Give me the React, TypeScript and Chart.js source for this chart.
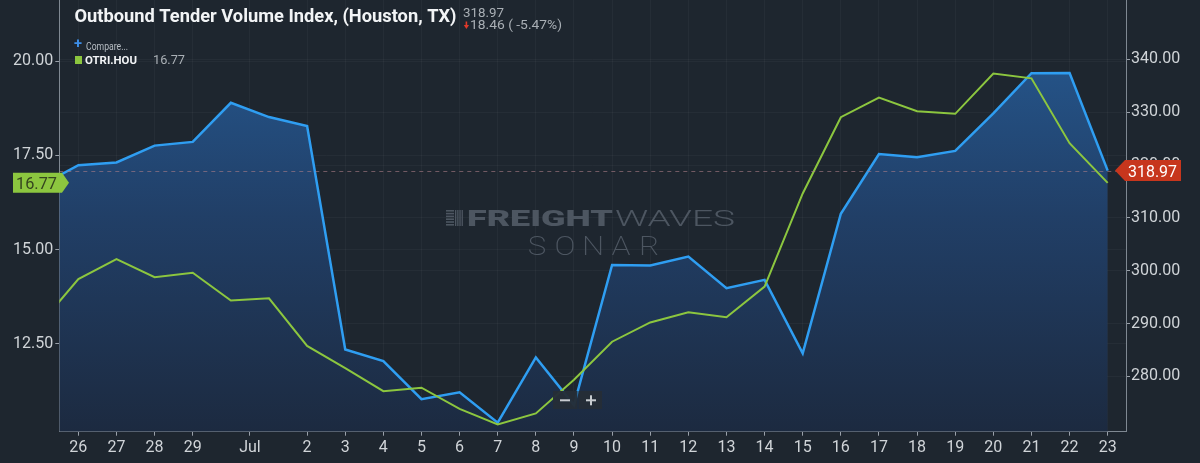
import React, { useEffect, useRef } from "react";
import { Chart, registerables } from "chart.js";

Chart.register(...registerables);

// ---- data (day index: 0 = Jun 25, 1 = Jun 26, ... 6 = Jul 1, ... 28 = Jul 23) ----
const DAY_INDEX = [0, 1, 2, 3, 4, 5, 6, 7, 8, 9, 10, 11, 12, 13, 14, 15, 16, 17, 18, 19, 20, 21, 22, 23, 24, 25, 26, 27, 28];

// Outbound Tender Volume Index (Houston) - right axis, blue area
const OTVI_HOU = [316.1, 320.0, 320.5, 323.7, 324.4, 331.8, 329.1, 327.4, 285.1, 282.9, 275.7, 277.0, 271.25, 283.6, 274.6, 301.1, 301.0, 302.7, 296.7, 298.3, 284.4, 310.8, 322.1, 321.5, 322.7, 329.8, 337.4, 337.43, 318.97];

// Outbound Tender Reject Index (Houston) - left axis, green line
const OTRI_HOU = [13.03, 14.22, 14.75, 14.27, 14.39, 13.65, 13.71, 12.45, 11.86, 11.25, 11.34, 10.78, 10.37, 10.66, 11.55, 12.56, 13.07, 13.34, 13.21, 14.02, 16.49, 18.51, 19.03, 18.67, 18.6, 19.67, 19.54, 17.82, 16.77];

const X_TICK_POSITIONS = [1, 2, 3, 4, 5.5, 7, 8, 9, 10, 11, 12, 13, 14, 15, 16, 17, 18, 19, 20, 21, 22, 23, 24, 25, 26, 27, 28];
const X_TICK_LABELS = ["26", "27", "28", "29", "Jul", "2", "3", "4", "5", "6", "7", "8", "9", "10", "11", "12", "13", "14", "15", "16", "17", "18", "19", "20", "21", "22", "23"];
const LEFT_TICKS = [12.5, 15, 17.5, 20];
const RIGHT_TICKS = [280, 290, 300, 310, 320, 330, 340];

const TITLE = "Outbound Tender Volume Index, (Houston, TX)";
const COMPARE_TEXT = "Compare...";
const SERIES_NAME = "OTRI.HOU";
const WATERMARK_1A = "FREIGHT";
const WATERMARK_1B = "WAVES";
const WATERMARK_2 = "SONAR";

// ---- styles ----
const FONT = "Roboto, 'Noto Sans', 'DejaVu Sans', sans-serif";
const BG = "#1e262f";
const BLUE = "#2f9ef2";
const GREEN = "#8cc63f";
const RED = "#c7361d";
const TICK_TEXT = "#d0d4d8";
const GRID = "rgba(255,255,255,0.035)";
const TICK_MARK = "rgba(175,182,190,0.85)";
const BORDER = "#7f8892";

function fitText(ctx: CanvasRenderingContext2D, text: string, x: number, y: number, width: number, font: string) {
  ctx.font = font;
  const w = ctx.measureText(text).width || 1;
  ctx.save();
  ctx.translate(x, y);
  ctx.scale(width / w, 1);
  ctx.textAlign = "left";
  ctx.fillText(text, 0, 0);
  ctx.restore();
}

const overlayPlugin = {
  id: "overlay",
  beforeDatasetsDraw(chart: any) {
    const ctx: CanvasRenderingContext2D = chart.ctx;
    ctx.save();
    // watermark
    const wm = "#4d5661";
    ctx.fillStyle = wm;
    ctx.strokeStyle = wm;
    ctx.textBaseline = "alphabetic";
    // icon
    for (let i = 0; i < 6; i++) {
      ctx.fillRect(446, 210 + i * 2.8, 8, 1.6);
    }
    for (let i = 0; i < 4; i++) {
      ctx.fillRect(455 + i * 2.2, 210, 1.3, 16);
    }
    fitText(ctx, WATERMARK_1A, 467, 226, 146, `900 22px ${FONT}`);
    fitText(ctx, WATERMARK_1B, 615, 226, 120, `300 22px ${FONT}`);
    ctx.font = `200 25px ${FONT}`;
    ctx.textAlign = "center";
    const letters = WATERMARK_2.split("");
    letters.forEach((ch, i) => {
      ctx.save();
      ctx.translate(523 + (i + 0.5) * 28, 255);
      ctx.scale(1.25, 1);
      ctx.fillText(ch, 0, 0);
      ctx.restore();
    });
    ctx.restore();
  },
  afterDatasetsDraw(chart: any) {
    const ctx: CanvasRenderingContext2D = chart.ctx;
    const area = chart.chartArea;
    const yR = chart.scales.yR;
    const last = OTVI_HOU[OTVI_HOU.length - 1];
    const y = yR.getPixelForValue(last);
    ctx.save();
    ctx.strokeStyle = "rgba(170,125,135,0.6)";
    ctx.lineWidth = 1;
    ctx.setLineDash([4, 4]);
    ctx.beginPath();
    ctx.moveTo(area.left, Math.round(y) + 0.5);
    ctx.lineTo(area.right, Math.round(y) + 0.5);
    ctx.stroke();
    ctx.restore();
  },
  afterDraw(chart: any) {
    const ctx: CanvasRenderingContext2D = chart.ctx;
    const yR = chart.scales.yR;
    const yL = chart.scales.yL;
    const lastV = OTVI_HOU[OTVI_HOU.length - 1];
    const prevV = OTVI_HOU[OTVI_HOU.length - 2];
    const change = lastV - prevV;
    const pct = (change / prevV) * 100;
    const lastR = OTRI_HOU[OTRI_HOU.length - 1];
    ctx.save();
    ctx.textBaseline = "alphabetic";

    // title
    ctx.fillStyle = "#f2f4f6";
    fitText(ctx, TITLE, 74.5, 21.7, 382, `bold 17.5px ${FONT}`);
    ctx.fillStyle = "#a9afb5";
    fitText(ctx, lastV.toFixed(2), 463, 16.7, 41, `13px ${FONT}`);
    fitText(ctx, `${Math.abs(change).toFixed(2)} ( ${pct.toFixed(2)}%)`, 470, 29.3, 92, `13px ${FONT}`);
    // red down arrow
    ctx.fillStyle = "#e0392a";
    ctx.fillRect(465.6, 21.5, 1.6, 4);
    ctx.beginPath();
    ctx.moveTo(463.8, 25);
    ctx.lineTo(469, 25);
    ctx.lineTo(466.4, 29);
    ctx.closePath();
    ctx.fill();

    // legend
    ctx.fillStyle = "#3d8ee8";
    fitText(ctx, "+", 74, 48, 8, `bold 14px ${FONT}`);
    ctx.fillStyle = "#b8bec4";
    fitText(ctx, COMPARE_TEXT, 86, 50, 42, `11px ${FONT}`);
    ctx.fillStyle = GREEN;
    ctx.fillRect(75, 56, 7, 8);
    ctx.fillStyle = "#f2f4f6";
    fitText(ctx, SERIES_NAME, 85, 64, 52, `bold 11px ${FONT}`);
    ctx.fillStyle = "#aab0b6";
    fitText(ctx, lastR.toFixed(2), 153, 64, 32, `13px ${FONT}`);

    // right value label (red)
    const yr = yR.getPixelForValue(lastV);
    ctx.fillStyle = RED;
    ctx.beginPath();
    ctx.moveTo(1115, yr);
    ctx.lineTo(1125, yr - 10.5);
    ctx.lineTo(1181, yr - 10.5);
    ctx.lineTo(1181, yr + 10.5);
    ctx.lineTo(1125, yr + 10.5);
    ctx.closePath();
    ctx.fill();
    ctx.fillStyle = "#ffffff";
    fitText(ctx, lastV.toFixed(2), 1128, yr + 6, 49, `16px ${FONT}`);

    // left value label (green)
    const yl = yL.getPixelForValue(lastR);
    ctx.fillStyle = GREEN;
    ctx.beginPath();
    ctx.moveTo(13, yl - 10);
    ctx.lineTo(62, yl - 10);
    ctx.lineTo(69, yl);
    ctx.lineTo(62, yl + 10);
    ctx.lineTo(13, yl + 10);
    ctx.closePath();
    ctx.fill();
    ctx.fillStyle = "#34441f";
    fitText(ctx, lastR.toFixed(2), 16, yl + 6, 41, `16px ${FONT}`);

    // zoom buttons
    ctx.fillStyle = "rgba(37,45,55,0.97)";
    ctx.fillRect(553, 391, 24.5, 18);
    ctx.fillRect(578.5, 391, 23.5, 18);
    ctx.fillStyle = "#c8ccd0";
    ctx.fillRect(560, 399.3, 10, 2);
    ctx.fillRect(586, 399.3, 10, 2);
    ctx.fillRect(590, 395.3, 2, 10);
    ctx.restore();
  },
};

export default function App() {
  const canvasRef = useRef<HTMLCanvasElement | null>(null);

  useEffect(() => {
    document.body.style.margin = "0";
    document.body.style.background = BG;
    const canvas = canvasRef.current;
    if (!canvas) return;

    const areaFill = (c: any) => {
      const chart = c.chart;
      const area = chart.chartArea;
      if (!area) return "rgba(37,90,147,0.8)";
      const g = chart.ctx.createLinearGradient(0, area.top, 0, area.bottom);
      g.addColorStop(0, "#265c96");
      g.addColorStop(0.5, "#213f67");
      g.addColorStop(1, "#1c2a40");
      return g;
    };

    const tickFont = { family: FONT, size: 16, weight: "normal" as const };

    const chart = new Chart(canvas, {
      type: "line",
      data: {
        datasets: [
          {
            label: "OTVI.HOU",
            data: DAY_INDEX.map((d, i) => ({ x: d, y: OTVI_HOU[i] })),
            yAxisID: "yR",
            xAxisID: "x",
            borderColor: BLUE,
            borderWidth: 2.5,
            backgroundColor: areaFill,
            fill: "start",
            pointRadius: 0,
            tension: 0,
            order: 2,
            clip: 0,
          },
          {
            label: "OTRI.HOU",
            data: DAY_INDEX.map((d, i) => ({ x: d, y: OTRI_HOU[i] })),
            yAxisID: "yL",
            xAxisID: "x",
            borderColor: GREEN,
            borderWidth: 2,
            fill: false,
            pointRadius: 0,
            tension: 0,
            order: 1,
            clip: 0,
          },
        ],
      },
      options: {
        animation: false,
        responsive: false,
        events: [],
        layout: { padding: 0 },
        plugins: {
          legend: { display: false },
          tooltip: { enabled: false },
          title: { display: false },
        },
        scales: {
          x: {
            type: "linear",
            position: "bottom",
            min: 0.5,
            max: 28.48,
            afterBuildTicks: (s: any) => {
              s.ticks = X_TICK_POSITIONS.map((v) => ({ value: v }));
            },
            afterFit: (s: any) => {
              s.height = 31.3;
              s.paddingLeft = 0;
              s.paddingRight = 0;
            },
            ticks: {
              autoSkip: false,
              maxRotation: 0,
              minRotation: 0,
              padding: 3,
              color: TICK_TEXT,
              font: tickFont,
              callback: (_v: any, i: number) => X_TICK_LABELS[i],
            },
            grid: { color: GRID, tickColor: TICK_MARK, tickLength: 4, drawTicks: true },
            border: { display: true, color: BORDER, width: 1 },
          },
          yL: {
            type: "linear",
            position: "left",
            min: 10.175,
            max: 21.617,
            afterBuildTicks: (s: any) => {
              s.ticks = LEFT_TICKS.map((v) => ({ value: v }));
            },
            afterFit: (s: any) => {
              s.width = 59.3;
              s.paddingTop = 0;
              s.paddingBottom = 0;
            },
            ticks: {
              padding: 2,
              color: TICK_TEXT,
              font: tickFont,
              callback: (v: any) => Number(v).toFixed(2),
            },
            grid: { color: GRID, tickColor: TICK_MARK, tickLength: 4, drawTicks: true },
            border: { display: true, color: BORDER, width: 1 },
          },
          yR: {
            type: "linear",
            position: "right",
            min: 269.55,
            max: 351.26,
            afterBuildTicks: (s: any) => {
              s.ticks = RIGHT_TICKS.map((v) => ({ value: v }));
            },
            afterFit: (s: any) => {
              s.width = 74;
              s.paddingTop = 0;
              s.paddingBottom = 0;
            },
            ticks: {
              padding: 1,
              color: TICK_TEXT,
              font: tickFont,
              callback: (v: any) => Number(v).toFixed(2),
            },
            grid: { color: GRID, tickColor: TICK_MARK, tickLength: 4, drawTicks: true },
            border: { display: true, color: BORDER, width: 1 },
          },
        },
      } as any,
      plugins: [overlayPlugin],
    });

    return () => {
      chart.destroy();
    };
  }, []);

  return (
    <div
      style={{
        position: "fixed",
        left: 0,
        top: 0,
        width: 1200,
        height: 463,
        background: BG,
        overflow: "hidden",
      }}
    >
      <canvas ref={canvasRef} width={1200} height={463} style={{ display: "block", width: 1200, height: 463 }} />
    </div>
  );
}
